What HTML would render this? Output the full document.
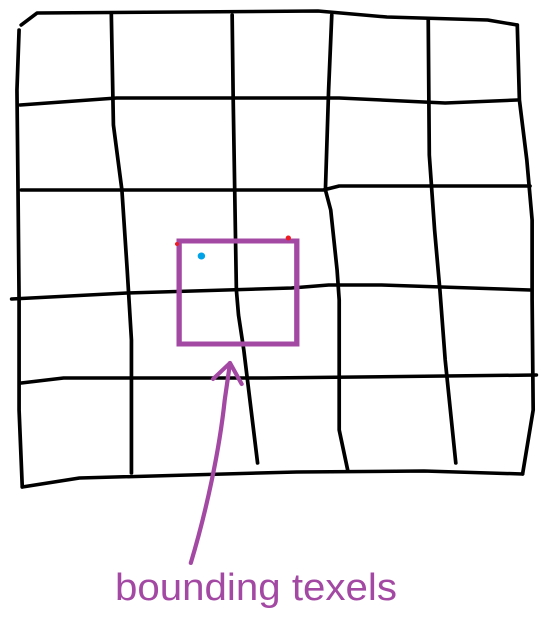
<!DOCTYPE html>
<html><head><meta charset="utf-8"><style>html,body{margin:0;padding:0;background:#fff}svg{display:block}</style></head>
<body>
<svg width="549" height="624" viewBox="0 0 549 624">
<g transform="scale(1.06,1)">
<g fill="none" stroke="#000" stroke-width="3.5" stroke-linejoin="round" stroke-linecap="round">
<polyline points="20,25 35,13 300,11 365,17 460,20 488,25"/>
<polyline points="18,30 16,90 17,190 18,300 18,410 21,487"/>
<polyline points="21,487 75,478 280,472 400,471 493,474"/>
<polyline points="488,25 490,100 497,160 502,220 502,300 503,410 493,474"/>
<polyline points="19,105 110,98 320,98 420,103 488,100"/>
<polyline points="20,190 305,190 320,186 500,186"/>
<polyline points="11,299 120,293 275,288 310,285 360,285 500,290"/>
<polyline points="20,383 60,378 250,378 506,375"/>
<polyline points="105,13 107,125 115,190 120,270 124,340 124,473"/>
<polyline points="219,15 220,100 223,290 225,315 230,350 243,463"/>
<polyline points="313,15 310,90 307,190 312,210 318,270 320,300 320,430 328,470"/>
<polyline points="404,20 405,155 410,230 415,290 420,360 430,463"/>
</g>
<rect x="169" y="241" width="111" height="103" fill="none" stroke="#a349a4" stroke-width="5"/>
<circle cx="190" cy="256" r="3.5" fill="#00a2e8"/>
<circle cx="272" cy="238" r="2.5" fill="#ed1c24"/>
<circle cx="167" cy="244" r="2" fill="#ed1c24"/>
<g fill="none" stroke="#a349a4" stroke-width="4" stroke-linecap="round" stroke-linejoin="round">
<path d="M180,563 C195,510 207,450 212,400 L217,363"/>
<polyline points="201,379 217,363 228,384"/>
</g>
</g>
<text x="115" y="600" font-family="Liberation Sans, sans-serif" font-size="38" fill="#a349a4" textLength="282" lengthAdjust="spacingAndGlyphs">bounding  texels</text>
</svg>
</body></html>
